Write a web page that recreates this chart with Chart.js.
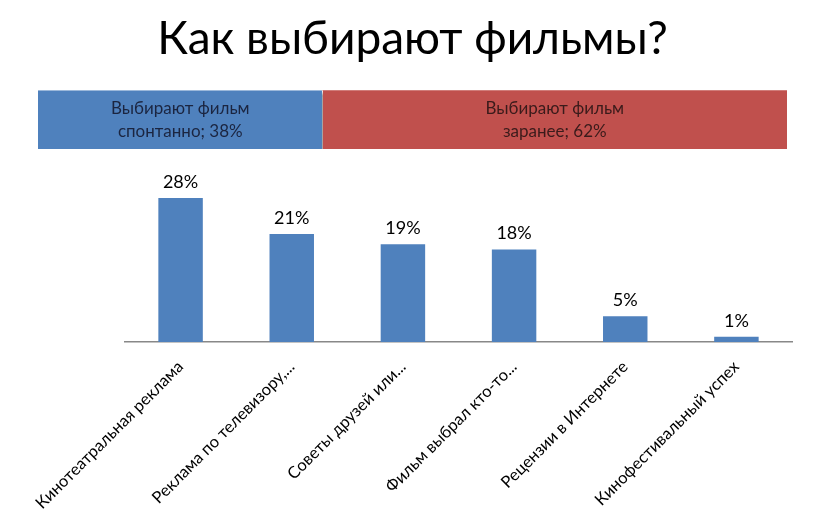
<!DOCTYPE html>
<html>
<head>
<meta charset="utf-8">
<script src="https://cdn.jsdelivr.net/npm/chart.js@4"></script>
<style>
    html, body { margin: 0; padding: 0; background: #fff; }
    #wrap { position: relative; width: 817px; height: 518px; }
    #topBox { position: absolute; left: 0; top: 0; width: 817px; height: 156px; }
    #barBox { position: absolute; left: 0; top: 160px; width: 817px; height: 358px; }
</style>
</head>
<body>
<div id="wrap">
    <div id="topBox"><canvas id="splitChart"></canvas></div>
    <div id="barBox"><canvas id="reasonsChart"></canvas></div>
</div>
<script>
// Chart data
const titleText = 'Как выбирают фильмы?';

const splitLines = [
    ['Выбирают фильм', 'спонтанно'],
    ['Выбирают фильм', 'заранее']
];
const splitValues = [38, 62];
const splitColors = ['#4F81BD', '#C0504D'];
const splitTextColors = ['#1b2540', '#3a1b1b'];

const categories = [
    'Кинотеатральная реклама',
    'Реклама по телевизору,...',
    'Советы друзей или...',
    'Фильм выбрал кто-то...',
    'Рецензии в Интернете',
    'Кинофестивальный успех'
];
const shares = [28, 21, 19, 18, 5, 1];

const FONT = "Lato, 'Noto Sans', sans-serif";

// soft shadow under the split bar
const shadowPlugin = {
    id: 'shadowPlugin',
    beforeDatasetsDraw(chart) {
        const ctx = chart.ctx;
        ctx.save();
        ctx.shadowColor = 'rgba(0,0,0,0.5)';
        ctx.shadowOffsetX = 2;
        ctx.shadowOffsetY = 3;
        ctx.shadowBlur = 3;
    },
    afterDatasetsDraw(chart) {
        chart.ctx.restore();
    }
};

// text inside each part of the split bar
const splitTextPlugin = {
    id: 'splitText',
    afterDraw(chart) {
        const ctx = chart.ctx;
        ctx.save();
        ctx.font = '17px ' + FONT;
        ctx.textAlign = 'center';
        ctx.textBaseline = 'middle';
        chart.data.datasets.forEach((ds, i) => {
            const bar = chart.getDatasetMeta(i).data[0];
            const c = bar.getCenterPoint();
            const lines = [splitLines[i][0], splitLines[i][1] + '; ' + splitValues[i] + '%'];
            ctx.fillStyle = splitTextColors[i];
            ctx.fillText(lines[0], c.x, c.y - 11);
            ctx.fillText(lines[1], c.x, c.y + 12);
        });
        ctx.restore();
    }
};

// value labels above columns
const valueLabelPlugin = {
    id: 'valueLabels',
    afterDatasetsDraw(chart) {
        const ctx = chart.ctx;
        const meta = chart.getDatasetMeta(0);
        ctx.save();
        ctx.font = '18px ' + FONT;
        ctx.fillStyle = '#000';
        ctx.textAlign = 'center';
        ctx.textBaseline = 'middle';
        meta.data.forEach((bar, i) => {
            ctx.fillText(shares[i] + '%', bar.x, bar.y - 16);
        });
        ctx.restore();
    }
};

new Chart(document.getElementById('splitChart'), {
    type: 'bar',
    data: {
        labels: [''],
        datasets: splitValues.map((v, i) => ({
            data: [v],
            backgroundColor: splitColors[i],
            borderColor: '#ffffff',
            borderWidth: i === 0 ? { right: 1 } : 0,
            borderSkipped: false,
            barPercentage: 1,
            categoryPercentage: 1
        }))
    },
    options: {
        indexAxis: 'y',
        responsive: true,
        maintainAspectRatio: false,
        animation: false,
        layout: { padding: { left: 38, right: 30, top: 0, bottom: 7 } },
        plugins: {
            legend: { display: false },
            tooltip: { enabled: false },
            title: {
                display: true,
                text: titleText,
                color: '#000',
                font: { family: FONT, size: 46, weight: 'normal' },
                padding: { top: 12, bottom: 23 }
            }
        },
        scales: {
            x: { stacked: true, min: 0, max: 100, display: false },
            y: { stacked: true, display: false }
        }
    },
    plugins: [shadowPlugin, splitTextPlugin]
});

new Chart(document.getElementById('reasonsChart'), {
    type: 'bar',
    data: {
        labels: categories,
        datasets: [{
            data: shares,
            backgroundColor: '#4F81BD',
            barPercentage: 0.4,
            categoryPercentage: 1
        }]
    },
    options: {
        responsive: true,
        maintainAspectRatio: false,
        animation: false,
        layout: { padding: { left: 125, right: 25, top: 2, bottom: 0 } },
        plugins: {
            legend: { display: false },
            tooltip: { enabled: false }
        },
        scales: {
            x: {
                grid: { display: false, drawTicks: false },
                border: { display: true, color: '#888888', width: 1.5 },
                ticks: {
                    color: '#000',
                    font: { family: FONT, size: 16.5 },
                    minRotation: 45,
                    maxRotation: 45,
                    padding: 15,
                    autoSkip: false
                },
                afterFit: (scale) => { scale.height = 176; }
            },
            y: { display: false, min: 0, max: 35 }
        }
    },
    plugins: [valueLabelPlugin]
});
</script>
</body>
</html>
